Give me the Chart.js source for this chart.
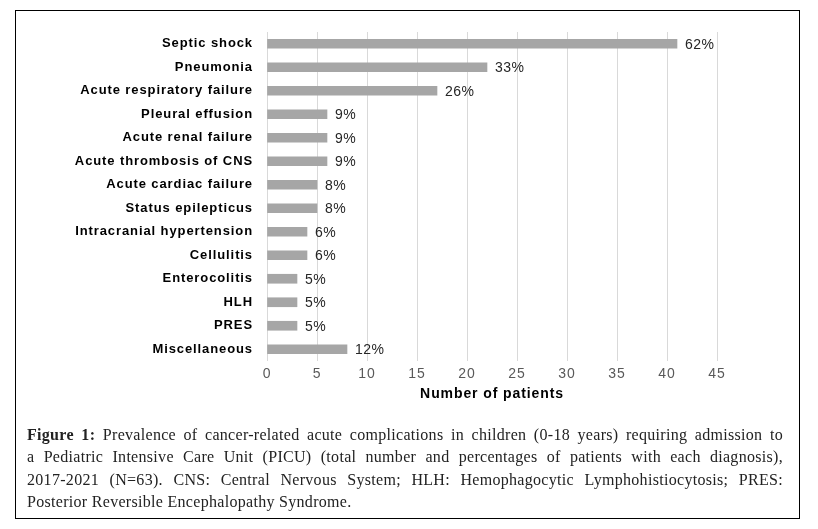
<!DOCTYPE html>
<html>
<head>
<meta charset="utf-8">
<script src="https://cdn.jsdelivr.net/npm/chart.js@4"></script>
<style>
  html, body { margin:0; padding:0; background:#fff; }
  body { width:818px; height:529px; position:relative; overflow:hidden; }
  #wrap { position:absolute; left:0; top:0; width:818px; height:529px; }
  #frame { position:absolute; left:15px; top:10px; width:785px; height:509px; box-sizing:border-box; border:1px solid #000; pointer-events:none; }
  #caption { position:absolute; left:27px; top:424px; width:756px; font-family:"Liberation Serif", serif; font-size:16px; letter-spacing:0.3px; line-height:22.3px; color:#222; }
  #caption .l { text-align:justify; text-align-last:justify; white-space:nowrap; }
  #caption .l.last { text-align:left; text-align-last:left; }
  #caption b { font-weight:bold; }
</style>
</head>
<body>
<div id="wrap"><canvas id="c" width="818" height="529"></canvas></div>
<div id="frame"></div>
<div id="caption">
  <div class="l"><b>Figure 1:</b> Prevalence of cancer-related acute complications in children (0-18 years) requiring admission to</div>
  <div class="l">a Pediatric Intensive Care Unit (PICU) (total number and percentages of patients with each diagnosis),</div>
  <div class="l">2017-2021 (N=63). CNS: Central Nervous System; HLH: Hemophagocytic Lymphohistiocytosis; PRES:</div>
  <div class="l last">Posterior Reversible Encephalopathy Syndrome.</div>
</div>
<script>
const categories = ['Septic shock','Pneumonia','Acute respiratory failure','Pleural effusion','Acute renal failure','Acute thrombosis of CNS','Acute cardiac failure','Status epilepticus','Intracranial hypertension','Cellulitis','Enterocolitis','HLH','PRES','Miscellaneous'];
const patients = [41,22,17,6,6,6,5,5,4,4,3,3,3,8];
const percentLabels = ['62%','33%','26%','9%','9%','9%','8%','8%','6%','6%','5%','5%','5%','12%'];
const xMin = 0, xMax = 45, xStep = 5;
const xTitle = 'Number of patients';

const spacingPlugin = {
  id: 'spacing',
  beforeDraw(chart) { chart.ctx.letterSpacing = '0.9px'; },
  afterDraw(chart) { chart.ctx.letterSpacing = '0px'; }
};

const pctPlugin = {
  id: 'pct',
  afterDatasetsDraw(chart) {
    const ctx = chart.ctx;
    const meta = chart.getDatasetMeta(0);
    ctx.save();
    ctx.letterSpacing = '0.5px';
    ctx.font = '14px "Liberation Sans", Arial, sans-serif';
    ctx.fillStyle = '#262626';
    ctx.textAlign = 'left';
    ctx.textBaseline = 'middle';
    meta.data.forEach((bar, i) => {
      ctx.fillText(percentLabels[i], bar.x + 8, bar.y + 1);
    });
    ctx.restore();
  }
};

new Chart(document.getElementById('c'), {
  type: 'bar',
  data: {
    labels: categories,
    datasets: [{
      data: patients,
      backgroundColor: '#a6a6a6',
      borderWidth: 0,
      barThickness: 9
    }]
  },
  options: {
    indexAxis: 'y',
    responsive: false,
    animation: false,
    devicePixelRatio: 1,
    layout: { padding: { left: 0, right: 101, top: 32, bottom: 126 } },
    plugins: { legend: { display: false }, tooltip: { enabled: false } },
    scales: {
      x: {
        min: xMin, max: xMax,
        ticks: { stepSize: xStep, padding: 5, color: '#595959', font: { family: '"Liberation Sans", Arial, sans-serif', size: 14 } },
        grid: { color: '#d9d9d9', lineWidth: 1, drawTicks: false },
        border: { display: false },
        title: { display: true, text: xTitle, color: '#000', padding: { top: 0, bottom: 0 }, font: { family: '"Liberation Sans", Arial, sans-serif', size: 14, weight: 'bold' } },
        afterFit(scale) { scale.height = 42; }
      },
      y: {
        ticks: { padding: 14, color: '#000', font: { family: '"Liberation Sans", Arial, sans-serif', size: 13, weight: 'bold' } },
        grid: { display: false, drawTicks: false },
        border: { display: false },
        afterFit(scale) { scale.width = 267; }
      }
    }
  },
  plugins: [spacingPlugin, pctPlugin]
});
</script>
</body>
</html>
